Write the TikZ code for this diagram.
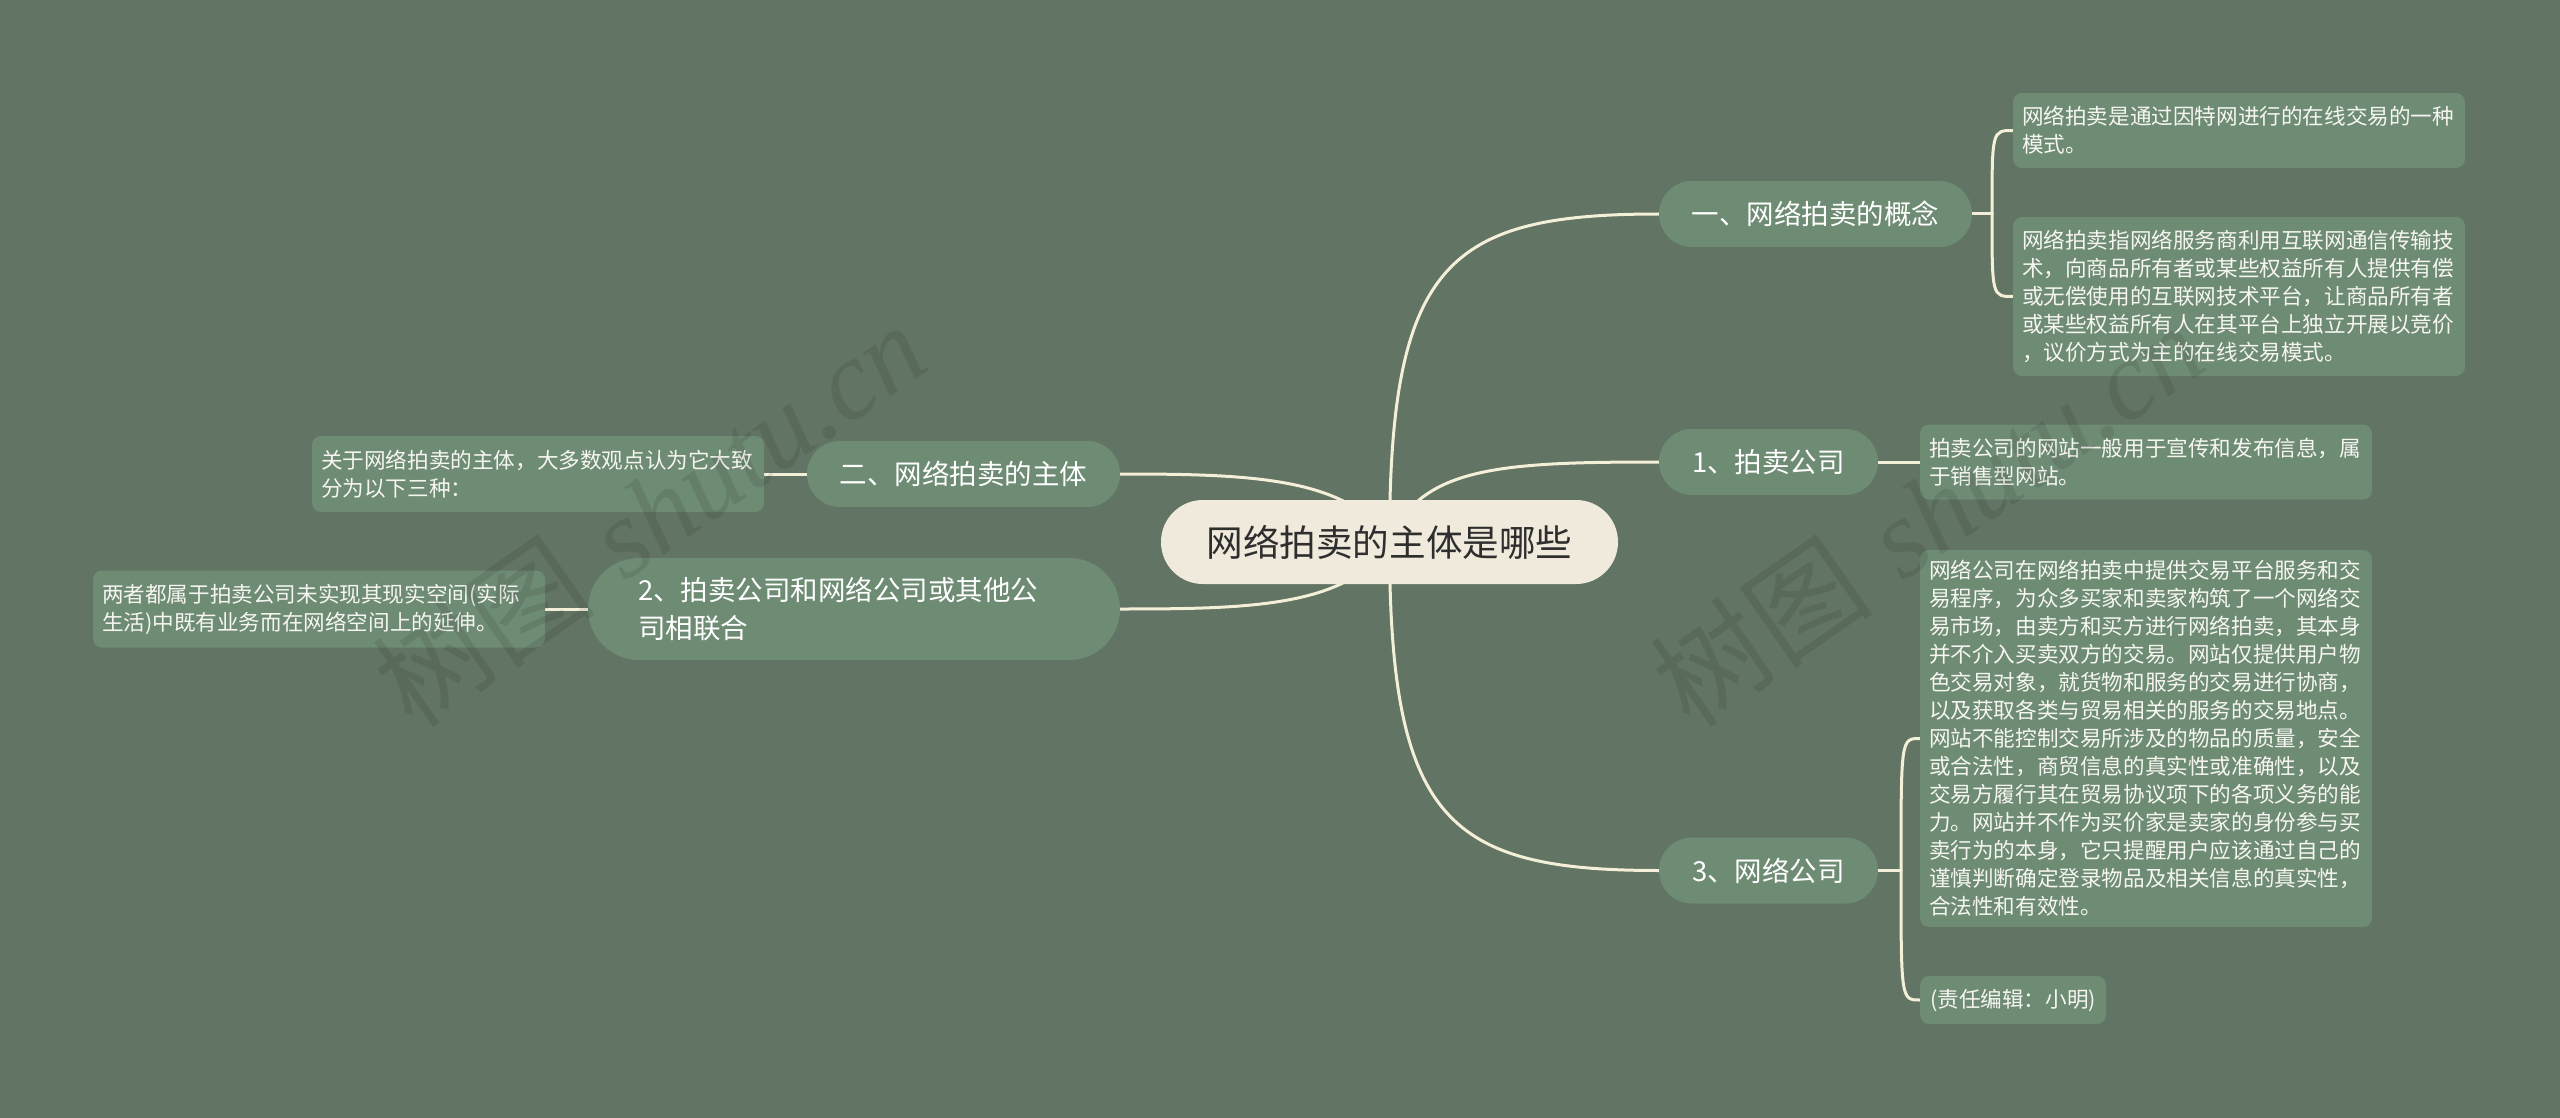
\documentclass[tikz,border=0pt]{standalone}
\usepackage{fontspec}
\newfontfamily\cjk{Noto Sans CJK SC}
\newfontfamily\wmserif{Liberation Serif}
\definecolor{bgc}{RGB}{98,116,99}
\definecolor{nodec}{RGB}{110,139,116}
\definecolor{rootc}{RGB}{239,234,219}
\definecolor{roottext}{RGB}{46,46,46}
\definecolor{leaftext}{RGB}{246,246,240}
\definecolor{linec}{RGB}{243,239,217}
\pgfdeclarelayer{bglayer}
\pgfdeclarelayer{connlayer}
\pgfsetlayers{bglayer,connlayer,main}
\tikzset{
  rootbox/.style={fill=rootc, text=roottext, rounded corners=41.9pt, minimum width=457pt, minimum height=84pt, inner sep=0pt, font=\cjk\fontsize{36.6}{44}\selectfont},
  branchbox/.style={fill=nodec, text=white, rounded corners=32.9pt, minimum height=66pt, inner xsep=0pt, inner ysep=0pt, font=\cjk\fontsize{27.5}{37.5}\selectfont},
  leafbox/.style={fill=nodec, text=leaftext, rounded corners=9pt, text width=434pt, inner xsep=9pt, inner ysep=0pt, align=left, font=\cjk\fontsize{21.6}{28}\selectfont},
  smallleaf/.style={fill=nodec, text=leaftext, rounded corners=9pt, inner xsep=10pt, inner ysep=0pt, minimum height=48pt, font=\cjk\fontsize{21.6}{28}\selectfont},
  conn/.style={draw=linec, line width=3pt, line cap=round},
  wm/.style={text=black, text opacity=0.09, font=\fontsize{112}{120}\selectfont, inner sep=0pt}
}
\begin{document}
\begin{tikzpicture}[x=1pt,y=-1pt]
\begin{pgfonlayer}{bglayer}
\fill[bgc] (0,0) rectangle (2560,1118);
\end{pgfonlayer}
\useasboundingbox (0,0) rectangle (2560,1118);

% root
\node[rootbox] (root) at (1389.5,542) {网络拍卖的主体是哪些};

% right branches
\node[branchbox, minimum width=313pt] (b1) at (1815.5,214) {一、网络拍卖的概念};
\node[branchbox, minimum width=219pt] (b2) at (1768.5,462) {1、拍卖公司};
\node[branchbox, minimum width=219pt] (b3) at (1768.5,870.5) {3、网络公司};

% left branches
\node[branchbox, minimum width=313pt] (bl1) at (963.5,474) {二、网络拍卖的主体};
\node[branchbox, rounded corners=50.9pt, text width=432pt, inner xsep=50pt, align=left, minimum height=102pt] (bl2) at (854,609) {2、拍卖公司和网络公司或其他公\\司相联合};

% leaves
\node[leafbox, minimum height=75pt] (l1) at (2239,130.5) {网络拍卖是通过因特网进行的在线交易的一种\\模式。};
\node[leafbox, minimum height=159pt] (l2) at (2239,296.5) {网络拍卖指网络服务商利用互联网通信传输技\\术，向商品所有者或某些权益所有人提供有偿\\或无偿使用的互联网技术平台，让商品所有者\\或某些权益所有人在其平台上独立开展以竞价\\，议价方式为主的在线交易模式。};
\node[leafbox, minimum height=75pt] (l3) at (2146,462) {拍卖公司的网站一般用于宣传和发布信息，属\\于销售型网站。};
\node[leafbox, minimum height=377pt] (l4) at (2146,738.5) {网络公司在网络拍卖中提供交易平台服务和交\\易程序，为众多买家和卖家构筑了一个网络交\\易市场，由卖方和买方进行网络拍卖，其本身\\并不介入买卖双方的交易。网站仅提供用户物\\色交易对象，就货物和服务的交易进行协商，\\以及获取各类与贸易相关的服务的交易地点。\\网站不能控制交易所涉及的物品的质量，安全\\或合法性，商贸信息的真实性或准确性，以及\\交易方履行其在贸易协议项下的各项义务的能\\力。网站并不作为买价家是卖家的身份参与买\\卖行为的本身，它只提醒用户应该通过自己的\\谨慎判断确定登录物品及相关信息的真实性，\\合法性和有效性。};
\node[smallleaf, anchor=west] (l5) at (1920,1000) {(责任编辑：小明)};
\node[leafbox, minimum height=76pt] (ll1) at (538,474) {关于网络拍卖的主体，大多数观点认为它大致\\分为以下三种：};
\node[leafbox, minimum height=77pt] (ll2) at (319,609) {两者都属于拍卖公司未实现其现实空间(实际\\生活)中既有业务而在网络空间上的延伸。};

% bracket points
\coordinate (k1) at (1992,214);
\coordinate (k3) at (1901,870.5);

\begin{pgfonlayer}{connlayer}
\draw[conn] (root.center) .. controls +(0,-280) and +(-210,0) .. (b1.west);
\draw[conn] (root.center) .. controls +(0,280) and +(-210,0) .. (b3.west);
\draw[conn] (root.center) .. controls +(30,-75) and +(-160,0) .. (b2.west);
\draw[conn] (root.center) .. controls +(-40,-65) and +(130,0) .. (bl1.east);
\draw[conn] (root.center) .. controls +(-40,65) and +(130,0) .. (bl2.east);
\draw[conn] (b1.east) -- (k1);
\draw[conn] (k1) .. controls (k1 |- l1.west) .. (l1.west);
\draw[conn] (k1) .. controls (k1 |- l2.west) .. (l2.west);
\draw[conn] (b2.east) -- (l3.west);
\draw[conn] (b3.east) -- (k3);
\draw[conn] (k3) .. controls (k3 |- l4.west) .. (l4.west);
\draw[conn] (k3) .. controls (k3 |- l5.west) .. (l5.west);
\draw[conn] (bl1.west) -- (ll1.east);
\draw[conn] (bl2.west) -- (ll2.east);
\end{pgfonlayer}

% watermarks
\node[wm, rotate=35] (wm1) at (649,514) {{\cjk 树图} {\wmserif\itshape shutu.cn}};
\node[wm, rotate=35] (wm2) at (1927,514) {{\cjk 树图} {\wmserif\itshape shutu.cn}};
\end{tikzpicture}
\end{document}
